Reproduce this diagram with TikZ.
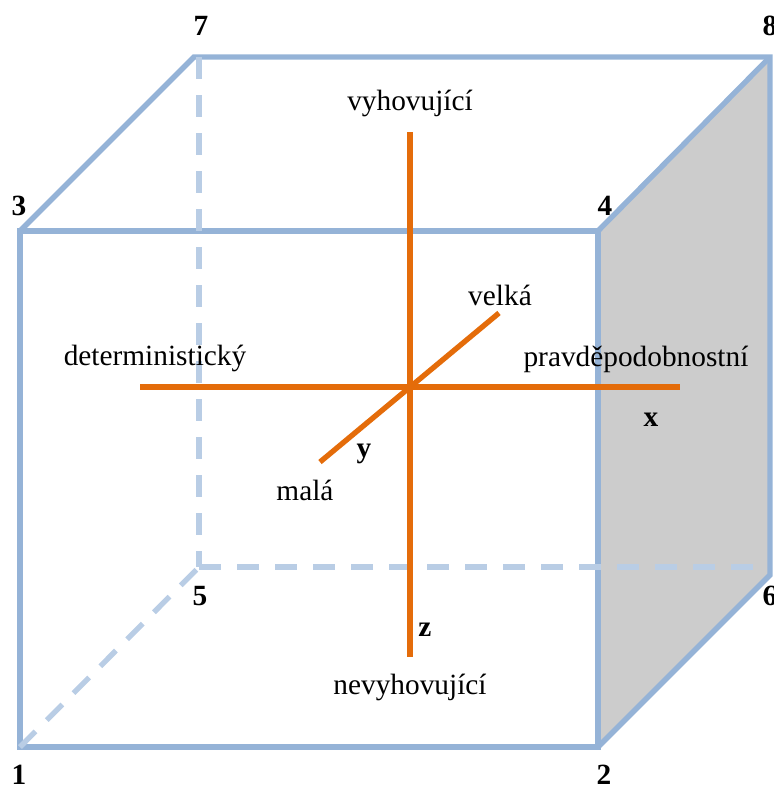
\documentclass[tikz,border=0pt]{standalone}
\usepackage{fontspec}
\setmainfont{Liberation Serif}
\definecolor{edgeblue}{HTML}{95B3D7}
\definecolor{hiddenblue}{HTML}{B9CDE5}
\definecolor{axisorange}{HTML}{E46C0A}
\definecolor{facegrey}{HTML}{CCCCCC}
\tikzset{
  edgeline/.style={draw=edgeblue,line width=4pt,line join=miter},
  hiddenline/.style={draw=hiddenblue,line width=4pt,dash pattern=on 16.5pt off 12pt},
  axisline/.style={draw=axisorange,line width=4pt},
  lab/.style={inner sep=0pt,font=\fontsize{22pt}{24pt}\selectfont,anchor=base},
  num/.style={inner sep=0pt,font=\fontsize{22pt}{24pt}\selectfont\bfseries,anchor=base},
}
\begin{document}
\begin{tikzpicture}[x=0.75pt,y=-0.75pt]
\useasboundingbox (0,0) rectangle (774,786);
\coordinate (c1) at (20,747);
\coordinate (c2) at (598,747);
\coordinate (c3) at (20,231);
\coordinate (c4) at (598,231);
\coordinate (c5) at (199,567);
\coordinate (c6) at (770,575);
\coordinate (c7) at (194,57);
\coordinate (c8) at (770,57);
\coordinate (c5b) at (757,567);
\coordinate (c7b) at (199,57);
\coordinate (xa) at (140,387);
\coordinate (xb) at (680,387);
\coordinate (za) at (410,132);
\coordinate (zb) at (410,657);
\coordinate (ya) at (320,462);
\coordinate (yb) at (499,313);
\fill[facegrey] (c4) -- (c8) -- (c6) -- (c2) -- cycle;
\draw[edgeline] (c1) -- (c2) -- (c4) -- (c3) -- cycle;
\draw[edgeline] (c3) -- (c7) -- (c8) -- (c6) -- (c2);
\draw[edgeline] (c4) -- (c8);
\draw[hiddenline] (c1) -- (c5);
\draw[hiddenline] (c5) -- (c5b);
\draw[hiddenline] (c7b) -- (c5);
\draw[axisline] (xa) -- (xb);
\draw[axisline] (za) -- (zb);
\draw[axisline] (ya) -- (yb);
\node[num] (n1) at (19,784) {1};
\node[num] (n2) at (604,784) {2};
\node[num] (n3) at (19,215) {3};
\node[num] (n4) at (605,215) {4};
\node[num] (n5) at (200,605) {5};
\node[num] (n6) at (770,605) {6};
\node[num] (n7) at (201,35) {7};
\node[num] (n8) at (770,35) {8};
\node[num] (nx) at (651,426) {x};
\node[num] (ny) at (364,457) {y};
\node[num] (nz) at (425,636) {z};
\node[lab] (t1) at (410,110) {vyhovující};
\node[lab] (t2) at (410,694) {nevyhovující};
\node[lab] (t3) at (155,365) {deterministický};
\node[lab] (t4) at (636,366) {pravděpodobnostní};
\node[lab] (t5) at (500,305) {velká};
\node[lab] (t6) at (305,500) {malá};
\end{tikzpicture}
\end{document}
